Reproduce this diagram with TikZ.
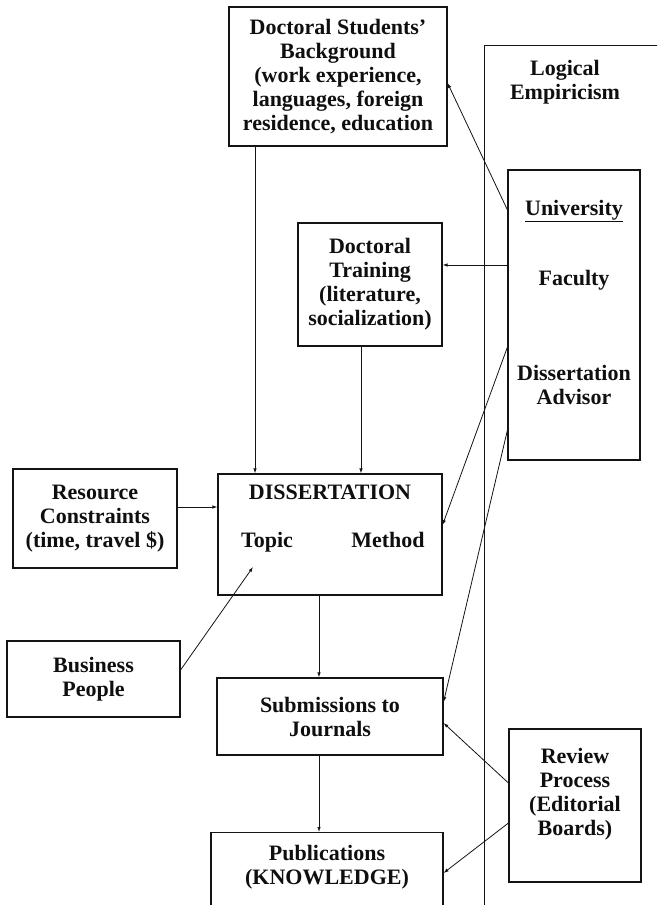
\documentclass[tikz,border=0pt]{standalone}
\usepackage{fontspec}
\setmainfont{Liberation Serif}
\usetikzlibrary{arrows.meta}
\definecolor{colorline}{RGB}{20,20,20}
\definecolor{colortext}{RGB}{15,15,15}

\begin{document}
\begin{tikzpicture}[
    x=1pt, y=-1pt,
    box/.style={draw=colorline,line width=1.1pt,inner sep=0pt},
    title/.style={text=colortext,align=center,font={\fontsize{22}{24}\selectfont\bfseries}},
    link/.style={colorline,line width=0.8pt,-{Latex[length=5pt,width=3.5pt]}},
]
    \useasboundingbox (0,0) rectangle (657,905);
    \clip (0,0) rectangle (657,905);

    % Logical Empiricism (runs off the page)
    \node[box,minimum width=230,minimum height=900,anchor=north west] (logic) at (484,45) {};
    \node[title] at (565,82) (logictext) {Logical\\Empiricism};

    % Students' Background
    \node[box,title,minimum width=218,minimum height=139] (students) at (338,76.5) {Doctoral Students'\\Background\\(work experience,\\languages, foreign\\residence, education};

    % University
    \node[box,minimum width=132,minimum height=290] (univ) at (574,315) {};
    \node[title] at (574,302) (univtext) {\underline{University}\\[46pt]Faculty\\[71pt]Dissertation\\Advisor};

    % Doctoral Training
    \node[box,title,minimum width=144,minimum height=123] (train) at (370,284.5) {Doctoral\\Training\\(literature,\\socialization)};

    % Dissertation
    \node[box,minimum width=224,minimum height=121] (diss) at (330,534.5) {};
    \node[title] at (330,492) (disstitle) {DISSERTATION};
    \node[title,anchor=base] at (267,547) (topic) {Topic};
    \node[title,anchor=base] at (388,547) (method) {Method};
    \coordinate (topicin) at (253,567);

    % Resource Constraints
    \node[box,title,minimum width=164,minimum height=99] (resource) at (95,518.5) {Resource\\Constraints\\(time, travel \$)};

    % Business People
    \node[box,title,minimum width=173,minimum height=76] (business) at (93.5,679) {Business\\People};

    % Submissions
    \node[box,title,minimum width=226,minimum height=77] (subm) at (330,716.5) {Submissions to\\Journals};

    % Publications (runs off the page)
    \node[box,minimum width=232,minimum height=120,anchor=north] (pub) at (327,832) {};
    \node[title] at (327,867) (pubtext) {Publications\\(KNOWLEDGE)};

    % Review Process
    \node[box,minimum width=132,minimum height=153] (review) at (575,805.5) {};
    \node[title] at (575,794) (reviewtext) {Review\\Process\\(Editorial\\Boards)};

    % Arrows
    \draw[link] (univ.west |- 0,210) -- (students.east |- 0,83); % university to background
    \draw[link] (univ.west |- 0,265) -- (train.east |- 0,265); % faculty to training
    \draw[link] (students.south -| 255,0) -- (diss.north -| 255,0); % background to dissertation
    \draw[link] (train.south -| 361,0) -- (diss.north -| 361,0); % training to dissertation
    \draw[link] (resource.east |- 0,507) -- (diss.west |- 0,507); % resources to dissertation
    \draw[link] (univ.west |- 0,347) -- (diss.east |- 0,525); % advisor to method
    \draw[link] (univ.west |- 0,430) -- (subm.east |- 0,702); % advisor to submissions
    \draw[link] (business.east |- 0,670) -- (topicin); % business to topic
    \draw[link] (diss.south -| 319,0) -- (subm.north -| 319,0); % dissertation to submissions
    \draw[link] (subm.south -| 319,0) -- (pub.north -| 319,0); % submissions to publications
    \draw[link] (review.west |- 0,783) -- (subm.east |- 0,723); % review to submissions
    \draw[link] (review.west |- 0,823) -- (pub.east |- 0,873); % review to publications

\end{tikzpicture}
\end{document}
